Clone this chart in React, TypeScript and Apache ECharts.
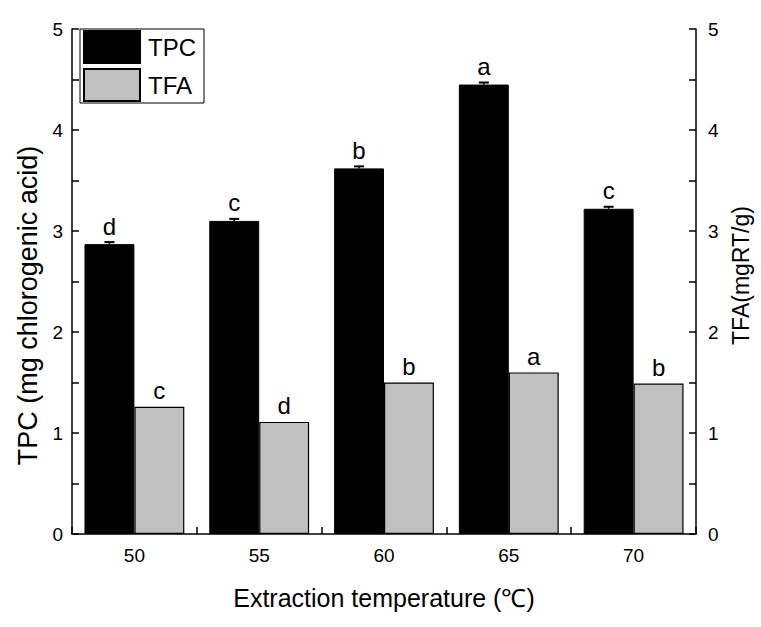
import React, { useEffect, useRef } from "react";
import * as echarts from "echarts";

const categories = ["50", "55", "60", "65", "70"];
const tpcValues = [2.87, 3.1, 3.62, 4.45, 3.22];
const tpcErrors = [0.02, 0.02, 0.02, 0.02, 0.02];
const tfaValues = [1.26, 1.11, 1.5, 1.6, 1.49];
const tpcLetters = ["d", "c", "b", "a", "c"];
const tfaLetters = ["c", "d", "b", "a", "b"];
const seriesNames = ["TPC", "TFA"];
const xTitle = "Extraction temperature (\u2103)";
const yLeftTitle = "TPC (mg chlorogenic acid)";
const yRightTitle = "TFA(mgRT/g)";

const FONT = "'Liberation Sans', Arial, sans-serif";

export default function App() {
  const ref = useRef<HTMLDivElement>(null);
  useEffect(() => {
    if (!ref.current) return;
    const chart = echarts.init(ref.current, undefined, { renderer: "svg" });
    const yAxisBase = (
      name: string,
      pos: "left" | "right",
      gap: number,
      lblMargin: number,
      nameSize: number,
      namePad: number[]
    ) => ({
      type: "value",
      position: pos,
      min: 0,
      max: 5,
      interval: 0.5,
      name,
      nameLocation: "middle",
      nameRotate: 90,
      nameGap: gap,
      nameTextStyle: { fontSize: nameSize, color: "#000", fontFamily: FONT, padding: namePad },
      axisLine: { show: true, lineStyle: { color: "#000", width: 1.5 } },
      axisTick: { show: true, inside: true, length: 7, lineStyle: { color: "#000", width: 1.5 } },
      axisLabel: {
        fontSize: 19,
        color: "#000",
        fontFamily: FONT,
        margin: lblMargin,
        formatter: (v: number) => (Math.abs(v - Math.round(v)) < 1e-6 ? String(Math.round(v)) : ""),
      },
      splitLine: { show: false },
    });
    chart.setOption({
      animation: false,
      backgroundColor: "#fff",
      textStyle: { fontFamily: FONT },
      grid: { left: 72, right: 65, top: 29, bottom: 93, containLabel: false },
      legend: {
        data: seriesNames,
        orient: "vertical",
        left: 80,
        top: 29,
        padding: [1, 8, 1, 3],
        itemGap: 4,
        itemWidth: 56,
        itemHeight: 32,
        borderColor: "#000",
        borderWidth: 1,
        backgroundColor: "#fff",
        icon: "rect",
        textStyle: { fontSize: 24, color: "#000", fontFamily: FONT, padding: [0, 0, 0, 3] },
      },
      xAxis: {
        type: "category",
        data: categories,
        name: xTitle,
        nameLocation: "middle",
        nameGap: 51,
        nameTextStyle: { fontSize: 25, color: "#000", fontFamily: FONT },
        axisLine: { lineStyle: { color: "#000", width: 1.5 } },
        axisTick: { show: true, inside: true, length: 7, lineStyle: { color: "#000", width: 1.5 } },
        axisLabel: { fontSize: 19, color: "#000", fontFamily: FONT, margin: 12 },
      },
      yAxis: [
        yAxisBase(yLeftTitle, "left", 31, 9, 27, [0, 48, 0, 0]),
        yAxisBase(yRightTitle, "right", 28, 12, 23, [0, 0, 0, 12]),
      ],
      series: [
        {
          name: "TPC",
          type: "bar",
          yAxisIndex: 0,
          data: tpcValues,
          barGap: "0%",
          barCategoryGap: "20%",
          itemStyle: { color: "#000", borderColor: "#000", borderWidth: 1 },
          label: {
            show: true,
            position: "top",
            distance: 6,
            fontSize: 24,
            color: "#000",
            fontFamily: FONT,
            formatter: (p: any) => tpcLetters[p.dataIndex],
          },
        },
        {
          name: "TFA",
          type: "bar",
          yAxisIndex: 1,
          data: tfaValues,
          barGap: "0%",
          barCategoryGap: "20%",
          itemStyle: { color: "#c0c0c0", borderColor: "#000", borderWidth: 1.2 },
          label: {
            show: true,
            position: "top",
            distance: 4,
            fontSize: 24,
            color: "#000",
            fontFamily: FONT,
            formatter: (p: any) => tfaLetters[p.dataIndex],
          },
        },
        {
          name: "TPC error",
          type: "custom",
          yAxisIndex: 0,
          z: 5,
          silent: true,
          encode: { x: 0, y: 1 },
          data: tpcValues.map((v, i) => [i, v, tpcErrors[i]]),
          renderItem: (params: any, api: any) => {
            const i = api.value(0);
            const v = api.value(1);
            const e = api.value(2);
            const band = api.size([1, 0])[0];
            const top = api.coord([i, v + e]);
            const bot = api.coord([i, v]);
            const x = top[0] - band * 0.2;
            return {
              type: "group",
              children: [
                { type: "line", shape: { x1: x, y1: bot[1], x2: x, y2: top[1] }, style: { stroke: "#000", lineWidth: 1.5 } },
                { type: "line", shape: { x1: x - 5, y1: top[1], x2: x + 5, y2: top[1] }, style: { stroke: "#000", lineWidth: 2 } },
              ],
            };
          },
        },
      ],
    });
    return () => chart.dispose();
  }, []);
  return (
    <div
      ref={ref}
      style={{ position: "absolute", left: 0, top: 0, width: 761, height: 627 }}
    />
  );
}
